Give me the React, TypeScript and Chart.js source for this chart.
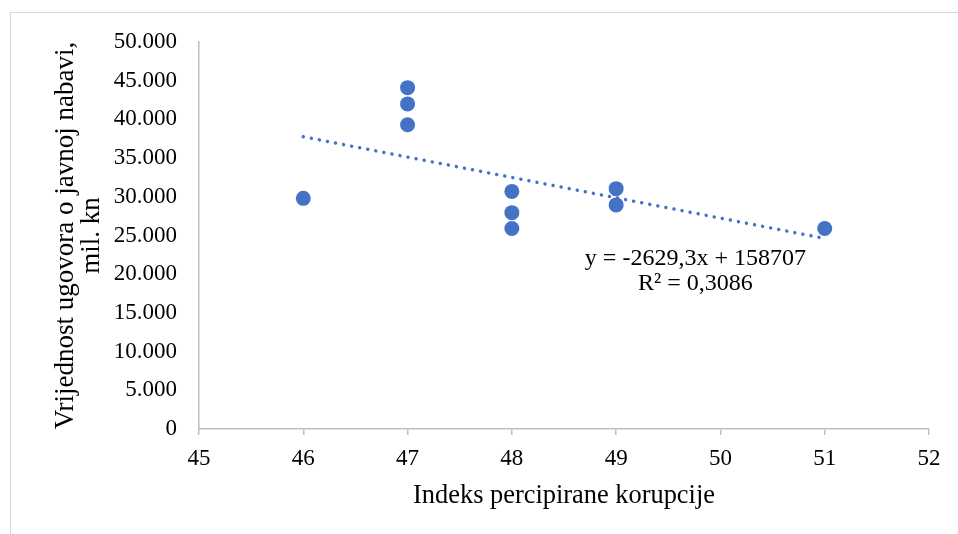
import React, { useEffect, useRef } from "react";
import { Chart, registerables } from "chart.js";

Chart.register(...registerables);

const indexValues = [46, 47, 47, 47, 48, 48, 48, 49, 49, 51];
const contractValues = [29800, 44100, 42000, 39300, 30700, 27950, 25900, 31050, 28950, 25900];
const trendSlope = -2629.3;
const trendIntercept = 158707;
const trendRange = [46, 51];
const trendLabelLines = ["y = -2629,3x + 158707", "R² = 0,3086"];
const xTitle = "Indeks percipirane korupcije";
const yTitleLines = ["Vrijednost ugovora o javnoj nabavi,", "mil. kn"];

const FONT = "'Liberation Serif', 'Times New Roman', serif";
const BLUE = "#4472c4";
const AXIS = "#bfbfbf";

const fmt = (v: number) => String(Math.round(v)).replace(/\B(?=(\d{3})+(?!\d))/g, ".");

export default function App() {
  const ref = useRef<HTMLCanvasElement | null>(null);
  useEffect(() => {
    const ctx = ref.current!;
    const trendLabel = {
      id: "trendLabel",
      afterDatasetsDraw(chart: any) {
        const c = chart.ctx;
        const xs = chart.scales.x;
        const ys = chart.scales.y;
        const x = xs.getPixelForValue(49.76);
        const y = ys.getPixelForValue(21950);
        c.save();
        c.font = `24px ${FONT}`;
        c.fillStyle = "#000";
        c.textAlign = "center";
        c.textBaseline = "middle";
        trendLabelLines.forEach((t, i) => c.fillText(t, x, y + i * 25));
        c.restore();
      },
    };
    const chart = new Chart(ctx, {
      type: "scatter",
      data: {
        datasets: [
          {
            label: "points",
            data: indexValues.map((x, i) => ({ x, y: contractValues[i] })),
            backgroundColor: BLUE,
            borderColor: BLUE,
            pointRadius: 7.5,
            pointBorderWidth: 0,
          },
          {
            type: "line",
            label: "trend",
            data: trendRange.map((x) => ({ x, y: trendSlope * x + trendIntercept })),
            borderColor: BLUE,
            borderWidth: 3.5,
            borderDash: [0.01, 8.2],
            borderCapStyle: "round",
            pointRadius: 0,
            fill: false,
          } as any,
        ],
      },
      options: {
        animation: false,
        responsive: false,
        maintainAspectRatio: false,
        layout: { padding: { left: 0, top: 42, right: 29, bottom: 22 } },
        plugins: { legend: { display: false }, tooltip: { enabled: false } },
        scales: {
          x: {
            type: "linear",
            min: 45,
            max: 52,
            afterFit: (s: any) => {
              s.height = 83;
            },
            ticks: {
              stepSize: 1,
              color: "#000",
              font: { family: FONT, size: 23 },
              padding: 10,
            },
            grid: {
              display: true,
              drawOnChartArea: false,
              drawTicks: true,
              tickLength: 6,
              color: AXIS,
              lineWidth: 1.5,
            },
            border: { display: true, color: AXIS, width: 1.5 },
            title: {
              display: true,
              text: xTitle,
              color: "#000",
              font: { family: FONT, size: 26.4, lineHeight: 1.2 },
              padding: 0,
            },
          },
          y: {
            type: "linear",
            min: 0,
            max: 50000,
            afterFit: (s: any) => {
              s.width = 199;
            },
            ticks: {
              stepSize: 5000,
              color: "#000",
              font: { family: FONT, size: 23 },
              padding: 22,
              callback: (v: any) => fmt(Number(v)),
            },
            grid: { display: false, drawTicks: false, tickLength: 0 },
            border: { display: true, color: AXIS, width: 1.5 },
            title: {
              display: true,
              text: yTitleLines,
              color: "#000",
              font: { family: FONT, size: 27, lineHeight: 0.96 },
              padding: { top: 53, bottom: 0 },
            },
          },
        },
      },
      plugins: [trendLabel],
    });
    return () => chart.destroy();
  }, []);
  return (
    <div style={{ position: "fixed", left: 0, top: 0, width: 958, height: 534, overflow: "hidden", background: "#fff" }}>
      <div
        style={{
          position: "absolute",
          left: 10,
          top: 12,
          width: 948,
          height: 522,
          borderLeft: "1px solid #d9d9d9",
          borderTop: "1px solid #d9d9d9",
        }}
      />
      <canvas ref={ref} width={958} height={534} style={{ position: "absolute", left: 0, top: 0 }} />
    </div>
  );
}
